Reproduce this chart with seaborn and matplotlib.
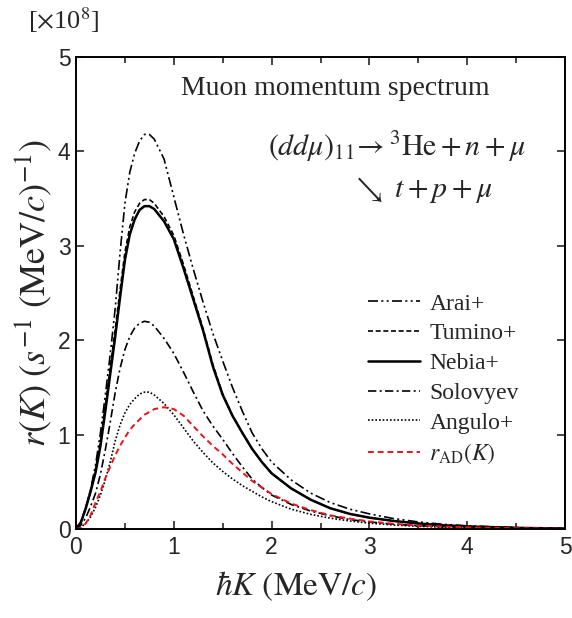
import pandas as pd
import matplotlib
matplotlib.use('Agg')
import matplotlib.pyplot as plt
import seaborn as sns
from matplotlib.ticker import MultipleLocator

# Momentum grid (MeV/c)
K = [0, 0.05, 0.1, 0.15, 0.2, 0.25, 0.3, 0.35, 0.4, 0.45, 0.5, 0.55, 0.6, 0.65, 0.7, 0.75,
     0.8, 0.9, 1.0, 1.1, 1.2, 1.3, 1.4, 1.5, 1.6, 1.7, 1.8, 1.9, 2.0,
     2.2, 2.4, 2.6, 2.8, 3.0, 3.25, 3.5, 3.75, 4.0, 4.5, 5.0]

# r(K) values in units of 1e8 s^-1 (MeV/c)^-1
arai = [0, 0.07, 0.22, 0.42, 0.68, 1.02, 1.42, 1.85, 2.33, 2.92, 3.45, 3.78, 3.98, 4.11, 4.18, 4.18,
        4.13, 3.92, 3.52, 3.12, 2.75, 2.40, 2.07, 1.78, 1.50, 1.25, 1.02, 0.85, 0.71,
        0.52, 0.38, 0.28, 0.21, 0.16, 0.11, 0.075, 0.05, 0.034, 0.015, 0.006]
tumino = [0, 0.07, 0.23, 0.42, 0.64, 0.93, 1.31, 1.71, 2.11, 2.53, 2.93, 3.20, 3.36, 3.45, 3.49, 3.49,
          3.45, 3.31, 3.11, 2.80, 2.46, 2.12, 1.74, 1.43, 1.20, 1.02, 0.85, 0.71, 0.59,
          0.43, 0.31, 0.22, 0.16, 0.12, 0.085, 0.058, 0.04, 0.027, 0.012, 0.005]
nebia = [0, 0.07, 0.22, 0.40, 0.60, 0.88, 1.25, 1.64, 2.03, 2.45, 2.85, 3.12, 3.28, 3.38, 3.42, 3.42,
         3.39, 3.26, 3.07, 2.76, 2.43, 2.10, 1.72, 1.42, 1.20, 1.02, 0.85, 0.71, 0.59,
         0.43, 0.31, 0.22, 0.16, 0.12, 0.085, 0.058, 0.04, 0.027, 0.012, 0.005]
solovyev = [0, 0.04, 0.12, 0.24, 0.38, 0.58, 0.84, 1.13, 1.44, 1.70, 1.90, 2.04, 2.13, 2.18, 2.20, 2.19,
            2.15, 2.02, 1.86, 1.66, 1.45, 1.25, 1.09, 0.95, 0.80, 0.66, 0.53, 0.44, 0.36,
            0.26, 0.19, 0.14, 0.10, 0.075, 0.05, 0.035, 0.024, 0.016, 0.007, 0.003]
angulo = [0, 0.02, 0.06, 0.13, 0.23, 0.36, 0.52, 0.71, 0.93, 1.10, 1.23, 1.32, 1.38, 1.43, 1.45, 1.45,
          1.42, 1.33, 1.21, 1.07, 0.93, 0.81, 0.70, 0.61, 0.53, 0.46, 0.40, 0.34, 0.29,
          0.21, 0.155, 0.115, 0.085, 0.062, 0.042, 0.028, 0.019, 0.013, 0.006, 0.002]
r_ad = [0, 0.01, 0.06, 0.15, 0.28, 0.40, 0.54, 0.66, 0.78, 0.88, 0.97, 1.05, 1.11, 1.16, 1.21, 1.24,
        1.27, 1.29, 1.27, 1.20, 1.09, 0.98, 0.88, 0.79, 0.69, 0.60, 0.51, 0.44, 0.37,
        0.27, 0.20, 0.145, 0.11, 0.08, 0.055, 0.038, 0.026, 0.018, 0.008, 0.003]

labels = ['Arai+', 'Tumino+', 'Nebia+', 'Solovyev', 'Angulo+', r'$r_{\mathrm{AD}}(K)$']
series = [arai, tumino, nebia, solovyev, angulo, r_ad]

sns.set_style('ticks')
plt.rcParams['font.family'] = ['Liberation Serif', 'DejaVu Serif']
plt.rcParams['mathtext.fontset'] = 'stix'

fig = plt.figure(figsize=(5.72, 6.18), dpi=100)
ax = fig.add_axes([76 / 572, 1 - 529 / 618, 489 / 572, 472 / 618])

styles = [
    dict(color='black', lw=1.2, dashes=(6, 2, 1.2, 2, 1.2, 2)),
    dict(color='black', lw=1.2, dashes=(3, 1.6)),
    dict(color='black', lw=1.8, dashes=()),
    dict(color='black', lw=1.2, dashes=(5, 2, 1.2, 2)),
    dict(color='black', lw=1.2, dashes=(1, 1.2)),
    dict(color='#e8141c', lw=1.4, dashes=(3, 2)),
]

for vals, lab, st in zip(series, labels, styles):
    df = pd.DataFrame({'K': K, 'r': vals})
    sns.lineplot(data=df, x='K', y='r', ax=ax, label=lab, color=st['color'], lw=st['lw'])
    l = ax.lines[-1]
    if st['dashes']:
        l.set_dashes(st['dashes'])

ax.set_xlim(0, 5)
ax.set_ylim(0, 5)
ax.xaxis.set_major_locator(MultipleLocator(1))
ax.xaxis.set_minor_locator(MultipleLocator(0.5))
ax.yaxis.set_major_locator(MultipleLocator(1))
ax.tick_params(which='both', direction='in', top=True, right=True, width=1.2)
ax.tick_params(which='major', length=6)
ax.tick_params(which='minor', length=4)
for s in ax.spines.values():
    s.set_linewidth(1.4)
    s.set_color('black')
for t in ax.get_xticklabels() + ax.get_yticklabels():
    t.set_fontfamily('Liberation Sans')
    t.set_fontsize(16.5)
ax.tick_params(axis='x', pad=5)
ax.tick_params(axis='y', pad=4)

ax.set_xlabel(r'$\hbar K\ (\mathrm{MeV}/c)$', fontsize=24, labelpad=6)
ax.xaxis.set_label_coords(0.45, -0.085)
ax.set_ylabel(r'$r(K)\ (s^{-1}\ (\mathrm{MeV}/c)^{-1})$', fontsize=26, labelpad=3)

fig.text(28 / 572, 1 - 20 / 618, r'[$\times$10$^{8}$]', fontsize=19, va='center', ha='left')

ax.text(0.53, 0.934, 'Muon momentum spectrum', transform=ax.transAxes, fontsize=20, ha='center', va='center')
ax.text(0.393, 0.809, r'$(dd\mu)_{11}\!\rightarrow{}^{3}\mathrm{He}+n+\mu$', transform=ax.transAxes,
        fontsize=21.5, ha='left', va='center')
ax.text(0.562, 0.718, r'$\searrow\ t+p+\mu$', transform=ax.transAxes,
        fontsize=21.5, ha='left', va='center')

ax.legend(loc='upper left', bbox_to_anchor=(0.597, 0.50), frameon=False, fontsize=17,
          handlelength=2.2, handletextpad=0.4, labelspacing=0.35, borderaxespad=0, borderpad=0)

fig.savefig('out.png', dpi=100)
